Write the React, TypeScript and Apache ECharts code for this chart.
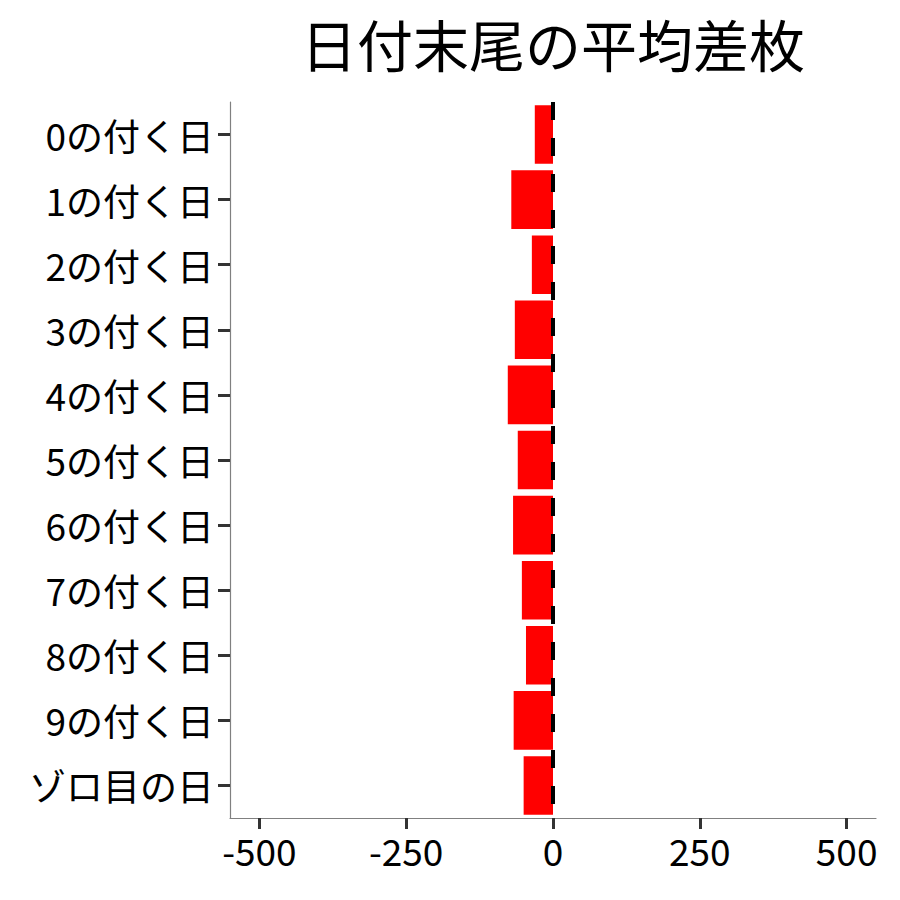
import * as echarts from "echarts";
import { useEffect, useRef } from "react";

const categories: string[] = [
  "0の付く日",
  "1の付く日",
  "2の付く日",
  "3の付く日",
  "4の付く日",
  "5の付く日",
  "6の付く日",
  "7の付く日",
  "8の付く日",
  "9の付く日",
  "ゾロ目の日",
];
const diffValues: number[] = [-31, -71, -36, -65, -77, -60, -68, -53, -46, -67, -50];
// x range with ggplot-like 5% expansion around -500..500
const xRange: number[] = [-550, 550];
const xTicks: number[] = [-500, -250, 0, 250, 500];

const FONT = "'Noto Sans CJK JP', 'Noto Sans', sans-serif";

const App = () => {
  const chartRef: any = useRef(null);

  useEffect(() => {
    document.body.style.margin = "0";
    const myChart = echarts.init(chartRef.current, null, { renderer: "svg" });
    myChart.setOption({
      animation: false,
      graphic: [
        {
          type: "text",
          x: 553,
          y: 42,
          style: {
            text: "日付末尾の平均差枚",
            fill: "#000",
            font: `56px ${FONT}`,
            textAlign: "center",
            textVerticalAlign: "middle",
          },
        },
      ],
      grid: { left: 230, right: 24, top: 102, bottom: 82 },
      xAxis: {
        type: "value",
        min: xRange[0],
        max: xRange[1],
        splitLine: { show: false },
        axisLine: { show: true, onZero: false, lineStyle: { color: "#808080", width: 1.2 } },
        axisTick: {
          show: true,
          customValues: xTicks,
          length: 11,
          lineStyle: { color: "#333", width: 3 },
        },
        axisLabel: {
          customValues: xTicks,
          color: "#000",
          fontSize: 37,
          fontFamily: FONT,
          margin: 13,
        },
      },
      yAxis: {
        type: "category",
        data: categories,
        inverse: true,
        axisLine: { show: true, onZero: false, lineStyle: { color: "#808080", width: 1.2 } },
        axisTick: {
          show: true,
          alignWithLabel: true,
          length: 12,
          lineStyle: { color: "#333", width: 3 },
        },
        axisLabel: {
          color: "#000",
          fontSize: 37,
          fontFamily: FONT,
          margin: 16,
        },
      },
      series: [
        {
          type: "bar",
          data: diffValues,
          barCategoryGap: "10%",
          itemStyle: { color: "#ff0000" },
          markLine: {
            silent: true,
            symbol: "none",
            label: { show: false },
            lineStyle: { color: "#000", width: 4, type: [18, 18] },
            data: [{ xAxis: 0 }],
          },
        },
      ],
    });
    return () => {
      myChart.dispose();
    };
  }, []);

  return <div ref={chartRef} style={{ width: "900px", height: "900px" }}></div>;
};

export default App;
